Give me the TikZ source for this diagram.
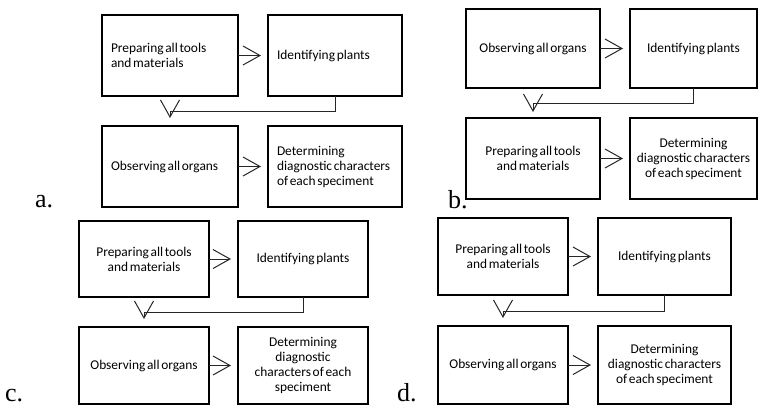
\documentclass[tikz,border=0pt]{standalone}
\usepackage{fontspec}
\setmainfont{Carlito}[WordSpace=0.55]
\newfontfamily\lblfont{Liberation Serif}
\usetikzlibrary{arrows.meta,calc}
\newcommand\bx[7]{\node[box,minimum width={(#4-#2)*1pt},minimum height={(#5-#3)*1pt},#6] (#1) at ({(#2+#4)/2},{(#3+#5)/2}) {#7};}
\tikzset{
  box/.style={draw,line width=2.4pt,outer sep=0pt,inner sep=0pt,align=center,font=\fontsize{13.4}{15}\selectfont},
  lbox/.style={align=flush left,inner xsep=9pt},
  arr/.style={line width=1pt,draw=black!85,-{Straight Barb[length=17pt,width=19pt]}},
  harr/.style={arr,shorten >=7pt},
  lbl/.style={anchor=base west,inner sep=0pt,font=\lblfont\fontsize{26}{28}\selectfont}
}
\begin{document}
\begin{tikzpicture}[x=1pt,y=-1pt]
\useasboundingbox (0,0) rectangle (760,408);
% panel a
\bx{A1}{102}{15}{238}{96}{lbox,text width=118pt}{Preparing all tools\\and materials}
\bx{A2}{268}{15}{402}{96}{lbox,text width=116pt}{Identifying plants}
\bx{A3}{102}{126}{238}{207}{lbox,text width=118pt}{Observing all organs}
\bx{A4}{268}{126}{402}{207}{lbox,text width=116pt}{Determining\\diagnostic~characters\\of each speciment}
\draw[harr] (A1) -- (A2);
\draw[harr] (A3) -- (A4);
\draw[arr] (A2.south) -- ++(0,15) -| ([yshift=8pt]A3.north);
\node[lbl] (la) at (35,207) {a.};
% panel b
\bx{B1}{466}{9}{600}{88}{}{Observing all organs}
\bx{B2}{630}{9}{757}{88}{}{Identifying plants}
\bx{B3}{466}{118}{600}{199}{}{Preparing all tools\\and materials}
\bx{B4}{630}{118}{757}{199}{}{Determining\\diagnostic characters\\of each speciment}
\draw[harr] (B1) -- (B2);
\draw[harr] (B3) -- (B4);
\draw[arr] (B2.south) -- ++(0,15) -| ([yshift=6pt]B3.north);
\node[lbl] (lb) at (448,208) {b.};
% panel c
\bx{C1}{79}{221}{209}{297}{}{Preparing all tools\\and materials}
\bx{C2}{238}{221}{368}{297}{}{Identifying plants}
\bx{C3}{79}{327}{209}{404}{}{Observing all organs}
\bx{C4}{238}{327}{368}{404}{}{Determining\\diagnostic\\characters of each\\speciment}
\draw[harr] (C1) -- (C2);
\draw[harr] (C3) -- (C4);
\draw[arr] (C2.south) -- ++(0,15) -| ([yshift=8pt]C3.north);
\node[lbl] (lc) at (5,401) {c.};
% panel d
\bx{D1}{438}{218}{568}{295}{}{Preparing all tools\\and materials}
\bx{D2}{598}{218}{731}{295}{}{Identifying plants}
\bx{D3}{438}{326}{568}{404}{}{Observing all organs}
\bx{D4}{598}{326}{731}{404}{}{Determining\\diagnostic characters\\of each speciment}
\draw[harr] (D1) -- (D2);
\draw[harr] (D3) -- (D4);
\draw[arr] (D2.south) -- ++(0,16) -| ([yshift=8pt]D3.north);
\node[lbl] (ld) at (397,401) {d.};
\end{tikzpicture}
\end{document}
